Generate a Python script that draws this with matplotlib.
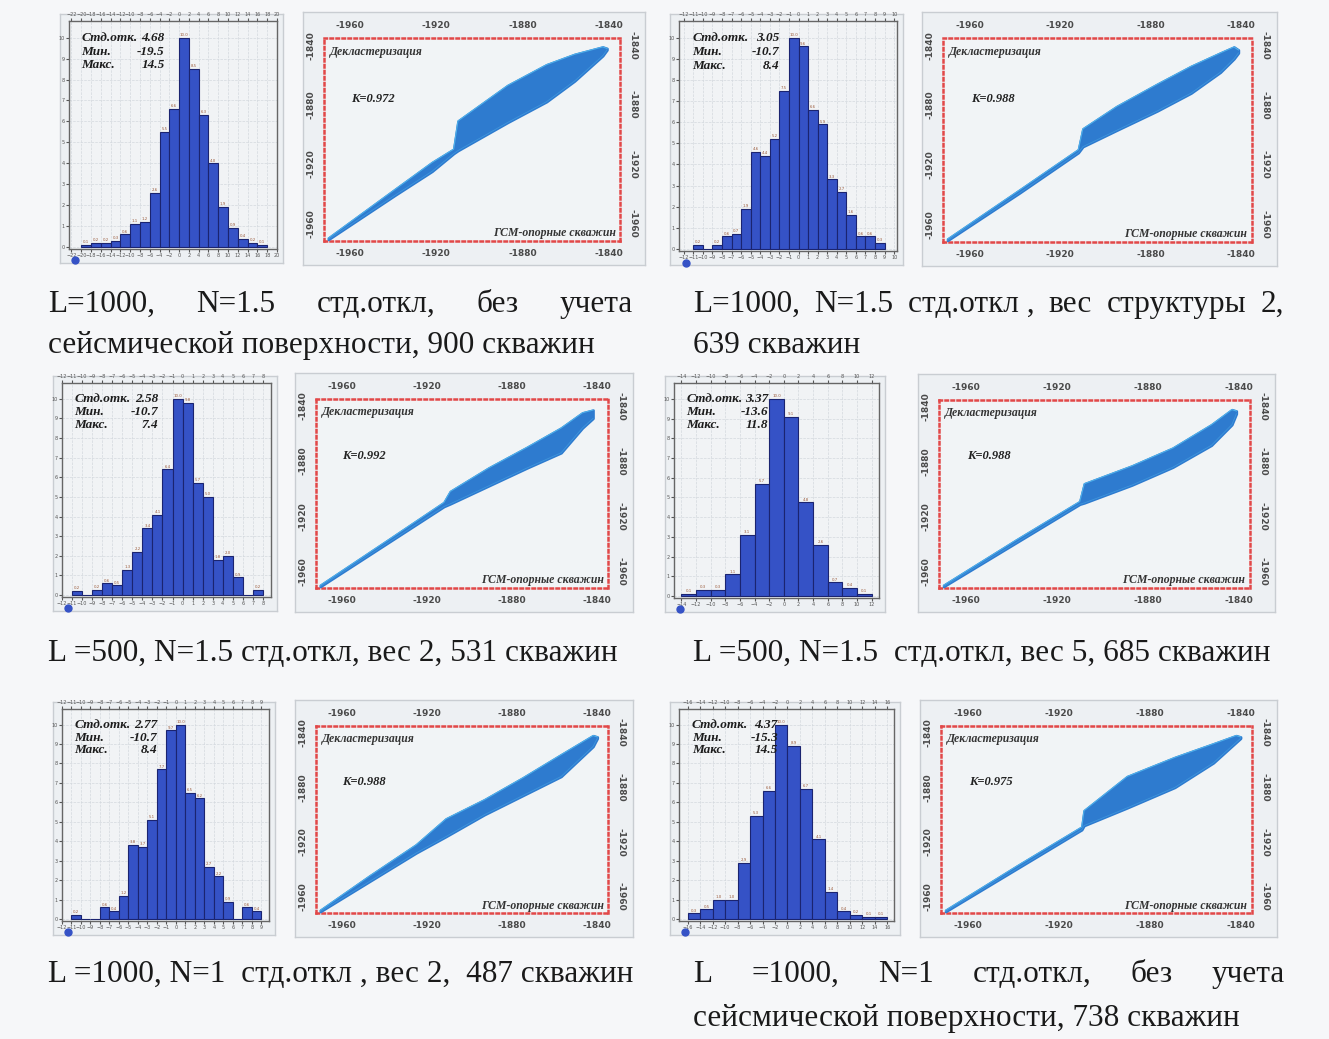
import matplotlib.pyplot as plt
import numpy as np
from matplotlib.ticker import MultipleLocator

# ---- histogram data (bin start, bin width, bar heights in %) ----
h1_start, h1_width = -20, 2
h1 = [0.1, 0.2, 0.2, 0.3, 0.6, 1.1, 1.2, 2.6, 5.5, 6.6, 10.0, 8.5, 6.3, 4.0, 1.9, 0.9, 0.4, 0.2, 0.1]
h2_start, h2_width = -11, 1
h2 = [0.2, 0, 0.2, 0.6, 0.7, 1.9, 4.6, 4.4, 5.2, 7.5, 10.0, 9.6, 6.6, 5.9, 3.3, 2.7, 1.6, 0.6, 0.6, 0.3]
h3_start, h3_width = -11, 1
h3 = [0.2, 0, 0.25, 0.6, 0.5, 1.3, 2.2, 3.4, 4.1, 6.4, 10.0, 9.8, 5.7, 5.0, 1.8, 2.0, 0.9, 0, 0.25]
h4_start, h4_width = -14, 2
h4 = [0.1, 0.3, 0.3, 1.1, 3.1, 5.7, 10.0, 9.1, 4.75, 2.6, 0.7, 0.4, 0.1]
h5_start, h5_width = -11, 1
h5 = [0.2, 0, 0, 0.6, 0.4, 1.2, 3.8, 3.7, 5.1, 7.7, 9.7, 10.0, 6.5, 6.2, 2.7, 2.2, 0.9, 0, 0.6, 0.4]
h6_start, h6_width = -16, 2
h6 = [0.3, 0.5, 1.0, 1.0, 2.9, 5.3, 6.6, 10.0, 8.9, 6.7, 4.1, 1.4, 0.4, 0.2, 0.1, 0.1]

stat_names = ['Стд.отк.', 'Мин.', 'Макс.']
stats1 = ['4.68', '-19.5', '14.5']
stats2 = ['3.05', '-10.7', '8.4']
stats3 = ['2.58', '-10.7', '7.4']
stats4 = ['3.37', '-13.6', '11.8']
stats5 = ['2.77', '-10.7', '8.4']
stats6 = ['4.37', '-15.3', '14.5']

# ---- crossplot clouds: envelope of the point cloud (x, lower y, upper y) ----
s1_x  = [-1970, -1939, -1922, -1912, -1910, -1887, -1869, -1856, -1843, -1841]
s1_lo = [-1971, -1941, -1925, -1913, -1911, -1892, -1878, -1864, -1847, -1843]
s1_hi = [-1970, -1937, -1919, -1910, -1891, -1867, -1853, -1846, -1841, -1842]

s2_x  = [-1970, -1938, -1912, -1910, -1895, -1877, -1862, -1849, -1843, -1841]
s2_lo = [-1971, -1939, -1912, -1908, -1897, -1884, -1872, -1858, -1849, -1845]
s2_hi = [-1970, -1937, -1910, -1896, -1881, -1866, -1854, -1845, -1841, -1843]

s3_x  = [-1970, -1938, -1912, -1909, -1891, -1873, -1857, -1847, -1842]
s3_lo = [-1971, -1939, -1913, -1911, -1898, -1885, -1874, -1856, -1849]
s3_hi = [-1970, -1937, -1910, -1902, -1885, -1870, -1856, -1845, -1843]

s4_x  = [-1970, -1938, -1910, -1908, -1887, -1869, -1852, -1843, -1841]
s4_lo = [-1971, -1939, -1911, -1910, -1897, -1884, -1868, -1853, -1845]
s4_hi = [-1970, -1937, -1909, -1896, -1883, -1870, -1853, -1842, -1843]

s5_x  = [-1970, -1947, -1925, -1911, -1893, -1875, -1857, -1842, -1840]
s5_lo = [-1971, -1949, -1928, -1916, -1900, -1886, -1872, -1850, -1844]
s5_hi = [-1970, -1945, -1922, -1903, -1889, -1873, -1856, -1842, -1843]

s6_x  = [-1970, -1938, -1910, -1909, -1890, -1869, -1852, -1842, -1840]
s6_lo = [-1971, -1939, -1911, -1908, -1895, -1880, -1862, -1847, -1844]
s6_hi = [-1970, -1937, -1909, -1897, -1872, -1858, -1848, -1842, -1843]

k_values = ['K=0.972', 'K=0.988', 'K=0.992', 'K=0.988', 'K=0.988', 'K=0.975']
scatter_ticks = [-1960, -1920, -1880, -1840]

W, H = 1329, 1039
fig = plt.figure(figsize=(W / 100, H / 100), dpi=100)
fig.patch.set_facecolor('#f6f7f9')

SERIF = 'Liberation Serif'


def rect(x0, top, x1, bottom):
    return [x0 / W, 1 - bottom / H, (x1 - x0) / W, (bottom - top) / H]


def frame(x0, top, x1, bottom):
    bg = fig.add_axes(rect(x0, top, x1, bottom))
    bg.set_xticks([])
    bg.set_yticks([])
    bg.set_facecolor('#edf0f3')
    for s in bg.spines.values():
        s.set_color('#c9cdd2')
        s.set_linewidth(1)
    return bg


def hist_panel(outer, start, width, heights, xlim, step, stats):
    x0, top, x1, bottom = outer
    frame(x0, top, x1, bottom)
    ax = fig.add_axes(rect(x0 + 9, top + 7, x1 - 6, bottom - 14))
    ax.set_facecolor('#f1f3f5')
    left_edges = start + width * np.arange(len(heights))
    bars = ax.bar(left_edges, heights, width=width, align='edge',
                  color='#3552c6', edgecolor='#1b2470', linewidth=0.8, zorder=3)
    ax.bar_label(bars, labels=[f'{v:.1f}' if v > 0 else '' for v in heights],
                 fontsize=2.8, color='#9a5a3a', padding=0.5)
    ax.set_xlim(*xlim)
    ax.set_ylim(-0.1, 10.8)
    ax.grid(True, color='#d3d8de', linewidth=0.5, linestyle='--', zorder=0)
    ax.xaxis.set_major_locator(MultipleLocator(step))
    ax.yaxis.set_major_locator(MultipleLocator(1))
    ax.tick_params(labelsize=3.5, length=2, top=True, labeltop=True,
                   colors='#555555', pad=1)
    for s in ax.spines.values():
        s.set_color('#666666')
        s.set_linewidth(1)
    ys = [0.925, 0.865, 0.805]
    for name, val, y in zip(stat_names, stats, ys):
        ax.text(0.06, y, name, transform=ax.transAxes, family=SERIF,
                style='italic', fontweight='bold', fontsize=9.5,
                color='#1c1c1c', va='center', zorder=5)
        ax.text(0.46, y, val, transform=ax.transAxes, family=SERIF,
                style='italic', fontweight='bold', fontsize=9.5,
                color='#1c1c1c', va='center', ha='right', zorder=5)
    ax.plot([0.03], [-0.05], 'o', transform=ax.transAxes, clip_on=False,
            ms=5, color='#3552c6')
    return ax


def scatter_panel(outer, x, lo, hi, k_text):
    x0, top, x1, bottom = outer
    frame(x0, top, x1, bottom)
    ax = fig.add_axes(rect(x0 + 21, top + 26, x1 - 25, bottom - 24))
    ax.set_facecolor('#f1f4f6')
    ax.fill_between(x, lo, hi, color='#2e7bcf', edgecolor='#2e7bcf',
                    linewidth=1.8, zorder=3)
    ax.plot(x, hi, color='#4fb0ea', linewidth=0.8, zorder=4)
    ax.plot(x, lo, color='#3f95dc', linewidth=0.6, zorder=4)
    ax.set_xlim(-1972, -1835)
    ax.set_ylim(-1972, -1835)
    for s in ax.spines.values():
        s.set_color('#e24848')
        s.set_linestyle((0, (1, 1.4)))
        s.set_linewidth(1.8)
    ax.set_xticks(scatter_ticks)
    ax.set_yticks(scatter_ticks)
    ax.set_xticklabels([str(v) for v in scatter_ticks])
    ax.set_yticklabels([str(v) for v in scatter_ticks])
    ax.tick_params(axis='x', top=True, labeltop=True, length=0, pad=6,
                   labelsize=6.5, colors='#4a4a4a')
    ax.tick_params(axis='y', right=True, labelright=True, length=0, pad=6,
                   labelsize=6.5, colors='#4a4a4a')
    for t in ax.xaxis.get_major_ticks():
        t.label1.set_fontweight('bold')
        t.label2.set_fontweight('bold')
    for t in ax.yaxis.get_major_ticks():
        t.label1.set_rotation(90)
        t.label1.set_va('center')
        t.label1.set_fontweight('bold')
        t.label2.set_rotation(-90)
        t.label2.set_va('center')
        t.label2.set_fontweight('bold')
    ax.text(0.02, 0.93, 'Декластеризация', transform=ax.transAxes,
            family=SERIF, style='italic', fontweight='bold', fontsize=8.5,
            color='#333333', va='center')
    ax.text(0.09, 0.70, k_text, transform=ax.transAxes, family=SERIF,
            style='italic', fontweight='bold', fontsize=9, color='#222222',
            va='center')
    ax.text(0.985, 0.04, 'ГСМ-опорные скважин', transform=ax.transAxes,
            family=SERIF, style='italic', fontweight='bold', fontsize=8.5,
            color='#333333', va='center', ha='right')
    return ax


# row 1
hist_panel((60, 14, 283, 263), h1_start, h1_width, h1, (-22.5, 20), 2, stats1)
scatter_panel((303, 12, 645, 265), s1_x, s1_lo, s1_hi, k_values[0])
hist_panel((670, 14, 903, 265), h2_start, h2_width, h2, (-12.5, 10.3), 1, stats2)
scatter_panel((922, 12, 1277, 266), s2_x, s2_lo, s2_hi, k_values[1])
# row 2
hist_panel((53, 376, 277, 611), h3_start, h3_width, h3, (-12, 8.8), 1, stats3)
scatter_panel((295, 373, 633, 612), s3_x, s3_lo, s3_hi, k_values[2])
hist_panel((665, 376, 885, 612), h4_start, h4_width, h4, (-15, 13), 2, stats4)
scatter_panel((918, 374, 1275, 612), s4_x, s4_lo, s4_hi, k_values[3])
# row 3
hist_panel((53, 702, 275, 935), h5_start, h5_width, h5, (-12, 9.8), 1, stats5)
scatter_panel((295, 700, 633, 937), s5_x, s5_lo, s5_hi, k_values[4])
hist_panel((670, 702, 900, 935), h6_start, h6_width, h6, (-17.4, 17.1), 2, stats6)
scatter_panel((920, 700, 1277, 937), s6_x, s6_lo, s6_hi, k_values[5])

# ---- captions ----
cap_kw = dict(family=SERIF, fontsize=22.5, color='#1a1a1a', va='baseline')


def caption(words, x0, y, x1=None):
    if x1 is None:
        fig.text(x0 / W, 1 - y / H, ' '.join(words), **cap_kw)
        return
    texts = [fig.text(0, 1 - y / H, w, **cap_kw) for w in words]
    r = fig.canvas.get_renderer()
    widths = [t.get_window_extent(r).width for t in texts]
    gap = (x1 - x0 - sum(widths)) / (len(words) - 1)
    x = x0
    for t, w in zip(texts, widths):
        t.set_x(x / W)
        x += w + gap


caption(['L=1000,', 'N=1.5', 'стд.откл,', 'без', 'учета'], 48, 312, 633)
caption(['сейсмической', 'поверхности,', '900', 'скважин'], 48, 353)
caption(['L=1000,', 'N=1.5', 'стд.откл ,', 'вес', 'структуры', '2,'], 693, 312, 1284)
caption(['639', 'скважин'], 693, 353)
caption(['L =500,', 'N=1.5', 'стд.откл,', 'вес', '2,', '531', 'скважин'], 48, 661)
caption(['L =500,', 'N=1.5 ', 'стд.откл,', 'вес', '5,', '685', 'скважин'], 693, 661)
caption(['L =1000,', 'N=1 ', 'стд.откл ,', 'вес', '2, ', '487', 'скважин'], 48, 982)
caption(['L', '=1000,', 'N=1', 'стд.откл,', 'без', 'учета'], 693, 982, 1285)
caption(['сейсмической', 'поверхности,', '738', 'скважин'], 693, 1026)

fig.savefig('out.png', dpi=100, facecolor=fig.get_facecolor())
